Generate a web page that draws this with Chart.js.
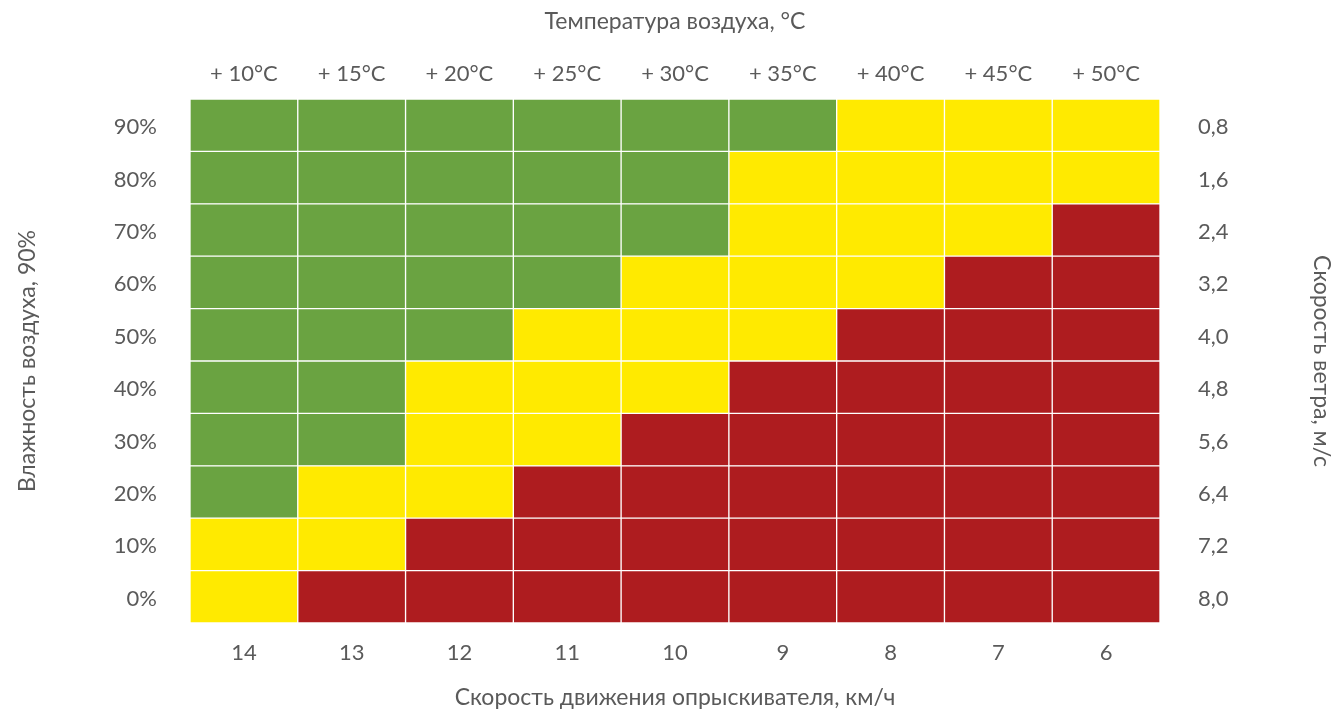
<!DOCTYPE html>
<html>
<head>
<meta charset="utf-8">
<script src="https://cdn.jsdelivr.net/npm/chart.js@4"></script>
<style>
  html, body { margin: 0; padding: 0; background: #fff; }
  #wrap { width: 1336px; height: 711px; }
</style>
</head>
<body>
<div id="wrap"><canvas id="heatChart"></canvas></div>
<script>
// axis labels
const temperatures = ['+ 10°C', '+ 15°C', '+ 20°C', '+ 25°C', '+ 30°C', '+ 35°C', '+ 40°C', '+ 45°C', '+ 50°C'];
const sprayerSpeeds = ['14', '13', '12', '11', '10', '9', '8', '7', '6'];
const humidityLabels = ['0%', '10%', '20%', '30%', '40%', '50%', '60%', '70%', '80%', '90%'];
const windSpeeds = ['8,0', '7,2', '6,4', '5,6', '4,8', '4,0', '3,2', '2,4', '1,6', '0,8'];

// zone per cell: 0 = green, 1 = yellow, 2 = red (one array per humidity row)
const row0 = [1, 2, 2, 2, 2, 2, 2, 2, 2];
const row10 = [1, 1, 2, 2, 2, 2, 2, 2, 2];
const row20 = [0, 1, 1, 2, 2, 2, 2, 2, 2];
const row30 = [0, 0, 1, 1, 2, 2, 2, 2, 2];
const row40 = [0, 0, 1, 1, 1, 2, 2, 2, 2];
const row50 = [0, 0, 0, 1, 1, 1, 2, 2, 2];
const row60 = [0, 0, 0, 0, 1, 1, 1, 2, 2];
const row70 = [0, 0, 0, 0, 0, 1, 1, 1, 2];
const row80 = [0, 0, 0, 0, 0, 1, 1, 1, 1];
const row90 = [0, 0, 0, 0, 0, 0, 1, 1, 1];

const rows = [row0, row10, row20, row30, row40, row50, row60, row70, row80, row90];
const zoneColors = ['#6aa341', '#ffea00', '#ae1c1f'];

const textColor = '#5a5a5a';
const fontFamily = 'Lato, "Open Sans", sans-serif';

/*
* each humidity row is one stacked dataset, every cell is a bar of height 1
*/
const datasets = rows.map((row, i) => ({
    label: humidityLabels[i],
    data: row.map(() => 1),
    backgroundColor: row.map(z => zoneColors[z]),
    borderColor: 'rgba(255,255,255,0.85)',
    borderWidth: 1,
    borderSkipped: false,
    barPercentage: 1,
    categoryPercentage: 1
}));

function midTicks(scale) {
    scale.ticks = humidityLabels.map((_, i) => ({ value: i + 0.5 }));
}

const tickFont = { family: fontFamily, size: 22 };
const titleFont = { family: fontFamily, size: 23 };

new Chart(document.querySelector('#heatChart'), {
    type: 'bar',
    data: { labels: sprayerSpeeds, datasets: datasets },
    options: {
        responsive: true,
        maintainAspectRatio: false,
        animation: false,
        layout: { padding: 0 },
        plugins: {
            legend: { display: false },
            tooltip: { enabled: false }
        },
        scales: {
            x: {
                type: 'category',
                position: 'bottom',
                stacked: true,
                grid: { display: false, drawTicks: false },
                border: { display: false },
                ticks: { color: textColor, font: tickFont, padding: 17, maxRotation: 0 },
                title: {
                    display: true,
                    text: 'Скорость движения опрыскивателя, км/ч',
                    color: textColor,
                    font: titleFont,
                    padding: { top: 0, bottom: 0 }
                },
                afterFit: s => { s.height = 88; }
            },
            xTop: {
                type: 'category',
                position: 'top',
                labels: temperatures,
                offset: true,
                grid: { display: false, drawTicks: false },
                border: { display: false },
                ticks: { color: textColor, font: tickFont, padding: 12, maxRotation: 0 },
                title: {
                    display: true,
                    text: 'Температура воздуха, °C',
                    color: textColor,
                    font: titleFont,
                    padding: { top: 8, bottom: 0 }
                },
                afterFit: s => { s.height = 99; }
            },
            y: {
                type: 'linear',
                position: 'left',
                stacked: true,
                min: 0,
                max: 10,
                afterBuildTicks: midTicks,
                grid: { display: false, drawTicks: false },
                border: { display: false },
                ticks: {
                    color: textColor,
                    font: tickFont,
                    padding: 33,
                    labelOffset: 2,
                    callback: (value, index) => humidityLabels[index]
                },
                title: {
                    display: true,
                    text: 'Влажность воздуха, 90%',
                    color: textColor,
                    font: titleFont,
                    padding: { top: 14, bottom: 0 }
                },
                afterFit: s => { s.width = 190; }
            },
            yRight: {
                type: 'linear',
                position: 'right',
                min: 0,
                max: 10,
                afterBuildTicks: midTicks,
                grid: { display: false, drawTicks: false },
                border: { display: false },
                ticks: {
                    color: textColor,
                    font: tickFont,
                    padding: 38,
                    labelOffset: 2,
                    callback: (value, index) => windSpeeds[index]
                },
                title: {
                    display: true,
                    text: 'Скорость ветра, м/с',
                    color: textColor,
                    font: titleFont,
                    padding: { top: 1, bottom: 0 }
                },
                afterFit: s => { s.width = 176; }
            }
        }
    }
});
</script>
</body>
</html>
